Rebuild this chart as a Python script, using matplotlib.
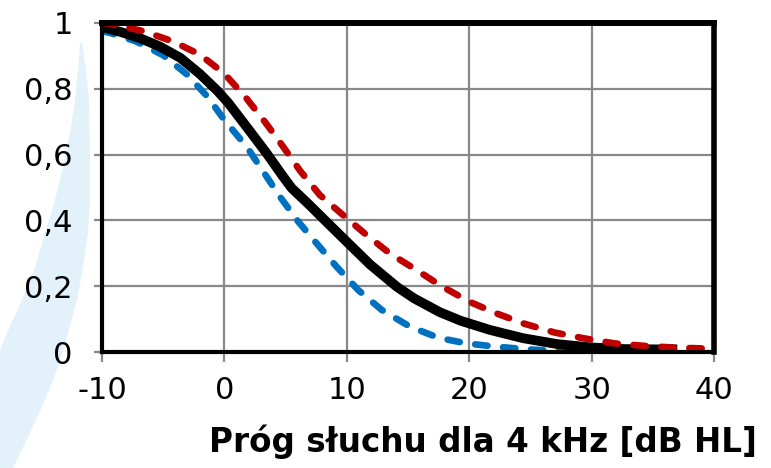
import matplotlib
matplotlib.use("Agg")
import matplotlib.pyplot as plt
from matplotlib.patches import Polygon

# ---- data ----
x_black = [-10, -8.5, -6.9, -5.3, -3.6, -2.0, -0.6, 0.3, 1.8, 3.45, 4.8, 5.5, 7.0, 8.6,
           10, 11.9, 14.1, 15.5, 17.6, 19.3, 21.7, 24.4, 27.2, 29.9, 32.6, 35.3, 37]
y_black = [0.988, 0.973, 0.954, 0.929, 0.894, 0.845, 0.795, 0.758, 0.685, 0.604, 0.533,
           0.498, 0.445, 0.386, 0.335, 0.266, 0.198, 0.163, 0.121, 0.095, 0.067, 0.042,
           0.024, 0.014, 0.009, 0.008, 0.008]

x_red = [-10, -9.35, -6.6, -4.2, -2.0, 0.0, 1.8, 3.3, 4.8, 6.2, 7.8, 9.7, 11.6, 13.5,
         15.7, 17.7, 20.0, 22.25, 24.5, 27, 29.3, 31.9, 34.5, 37, 40]
y_red = [1.0, 0.998, 0.975, 0.944, 0.904, 0.846, 0.771, 0.70, 0.624, 0.55, 0.477, 0.416,
         0.356, 0.30, 0.249, 0.201, 0.153, 0.117, 0.086, 0.059, 0.042, 0.026, 0.018,
         0.013, 0.01]

x_blue = [-10, -9.35, -7.2, -5.0, -3.1, -1.4, 0.0, 1.82, 3.18, 4.54, 6.04, 7.4, 9.17,
          10.94, 12.85, 15.16, 17.5, 19.8, 22.25, 24.8, 27.3, 28.2]
y_blue = [0.975, 0.97, 0.944, 0.902, 0.845, 0.777, 0.705, 0.624, 0.548, 0.472, 0.396,
          0.336, 0.259, 0.188, 0.128, 0.077, 0.043, 0.026, 0.016, 0.008, 0.003, 0.0]

x_ticks = [-10, 0, 10, 20, 30, 40]
x_ticklabels = ["-10", "0", "10", "20", "30", "40"]
y_ticks = [0, 0.2, 0.4, 0.6, 0.8, 1.0]
y_ticklabels = ["0", "0,2", "0,4", "0,6", "0,8", "1"]
x_label = "Próg słuchu dla 4 kHz [dB HL]"

W, H = 771, 468
fig = plt.figure(figsize=(W / 100, H / 100), dpi=100)
fig.patch.set_facecolor("white")

# decorative light-blue arc on the left (figure pixel coords)
arc_px = [(82, 43), (86, 70), (89, 100), (90, 150), (90, 200), (88, 233), (83, 267),
          (77, 300), (68, 333), (58, 367), (45, 400), (30, 433), (13, 468), (0, 468),
          (0, 350), (7, 333), (22, 300), (35, 267), (45, 233), (55, 200), (63, 167),
          (70, 133), (75, 100), (78, 70), (80, 43)]
arc = Polygon([(px / W, 1 - py / H) for px, py in arc_px], closed=True,
              transform=fig.transFigure, facecolor="#E3F2FA", edgecolor="none", zorder=-5)
fig.patches.append(arc)

ax = fig.add_axes([102 / W, 1 - 352 / H, (714 - 102) / W, (352 - 23) / H])
ax.set_zorder(1)
ax.set_facecolor("white")
ax.set_xlim(-10, 40)
ax.set_ylim(0, 1)

ax.grid(True, color="#888888", linewidth=1.6)
ax.set_axisbelow(True)

lw_d = 4.8
dash = (0, (1.85, 2.35))
ax.plot(x_blue, y_blue, color="#0070C0", linewidth=lw_d, linestyle=dash,
        dash_capstyle="round", zorder=3)
ax.plot(x_black, y_black, color="black", linewidth=7, solid_capstyle="butt",
        solid_joinstyle="round", zorder=4)
ax.plot(x_red, y_red, color="#C00000", linewidth=lw_d, linestyle=dash,
        dash_capstyle="round", zorder=5)

ax.set_xticks(x_ticks)
ax.set_xticklabels(x_ticklabels)
ax.set_yticks(y_ticks)
ax.set_yticklabels(y_ticklabels)
ax.tick_params(axis="both", colors="#888888", width=1.6, labelcolor="black", labelsize=22)
ax.tick_params(axis="x", length=7, pad=10)
ax.tick_params(axis="y", length=6, pad=15)

for side, w in (("top", 4.3), ("right", 4.0), ("left", 3.0), ("bottom", 3.0)):
    ax.spines[side].set_linewidth(w)
    ax.spines[side].set_color("black")
    ax.spines[side].set_zorder(6)

fig.text(757 / W, 1 - 452 / H, x_label, ha="right", va="baseline",
         fontsize=23.5, fontweight="bold", family="DejaVu Sans")

fig.savefig("out.png", dpi=100, facecolor="white")
